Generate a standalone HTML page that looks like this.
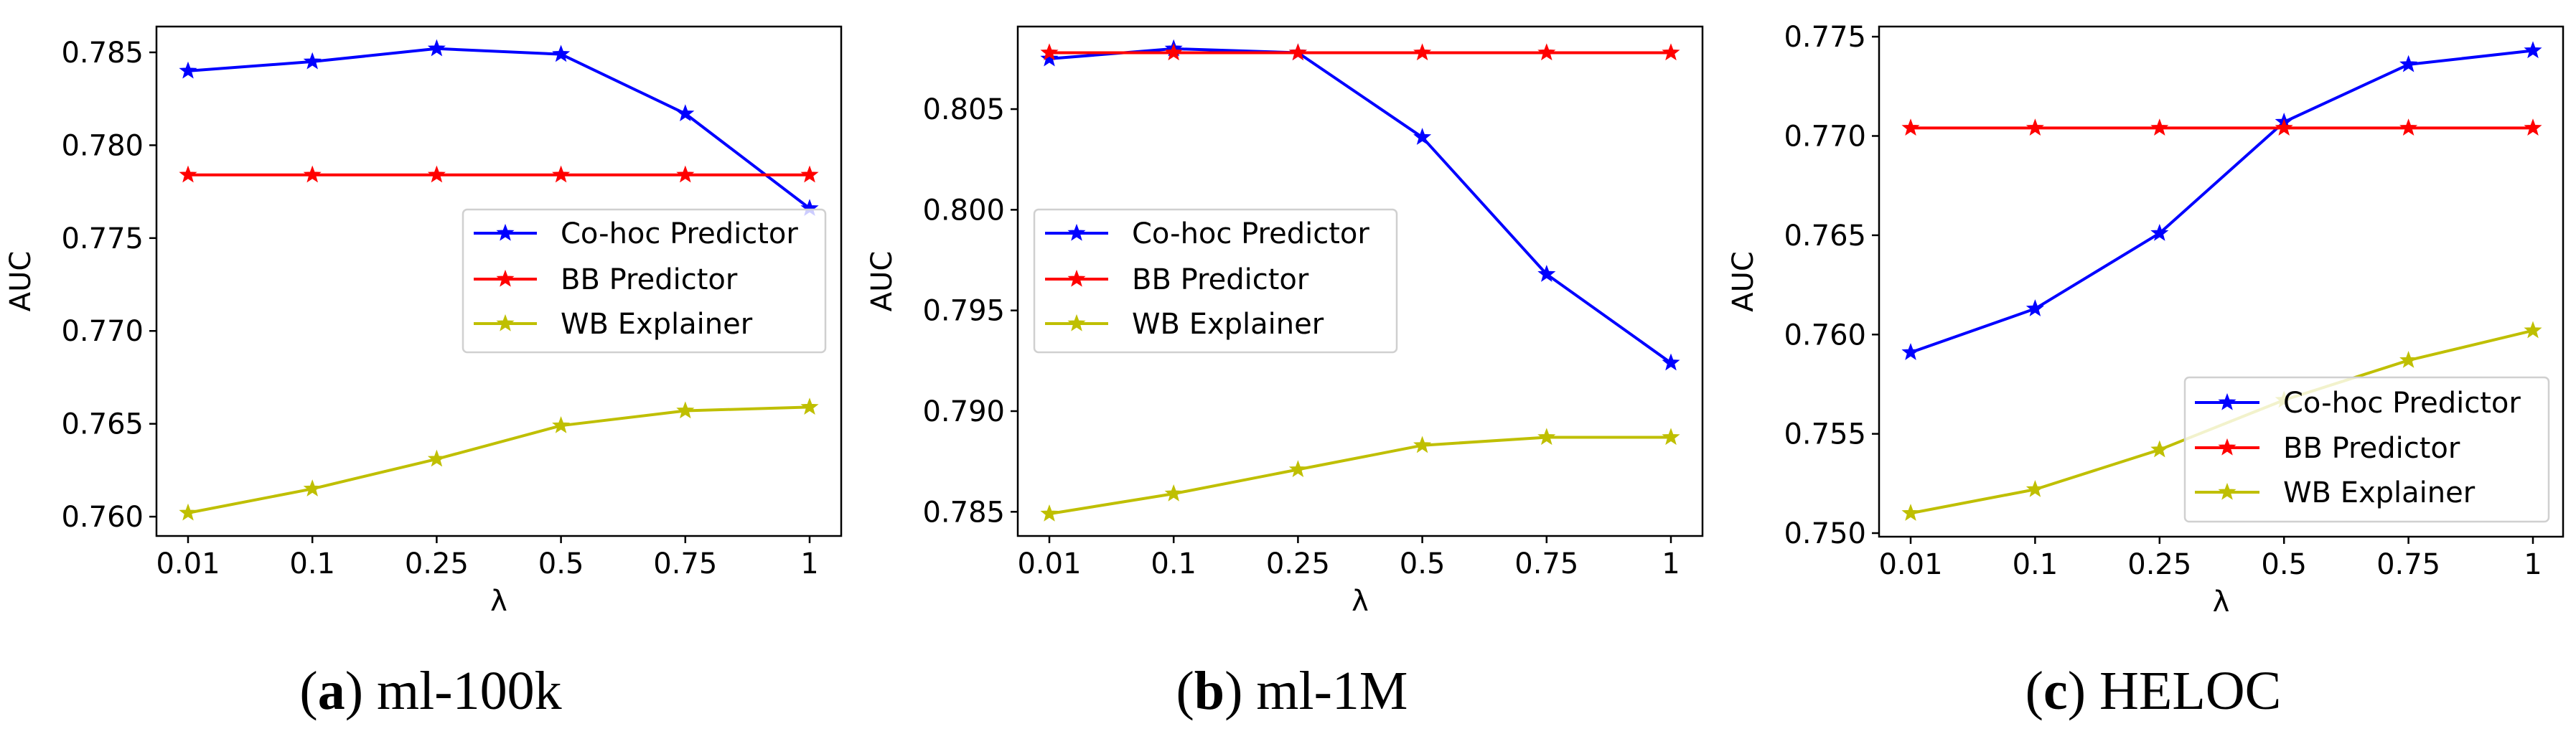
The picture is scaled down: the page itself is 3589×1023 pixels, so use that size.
<!DOCTYPE html>
<html><head><meta charset="utf-8"><style>
html,body{margin:0;padding:0;background:#fff;}
svg text{font-family:"DejaVu Sans","Liberation Sans",sans-serif;}
</style></head><body>
<svg id="fig" width="3589" height="1018" viewBox="0 0 3589 1018" xmlns="http://www.w3.org/2000/svg"></svg>
<script>
const categories = ["0.01","0.1","0.25","0.5","0.75","1"];
const seriesNames = ["Co-hoc Predictor","BB Predictor","WB Explainer"];
const a_cohoc = [0.7840,0.7845,0.7852,0.7849,0.7817,0.7766];
const a_bb = [0.7784,0.7784,0.7784,0.7784,0.7784,0.7784];
const a_wb = [0.7602,0.7615,0.7631,0.7649,0.7657,0.7659];
const a_ticks = [0.760,0.765,0.770,0.775,0.780,0.785];
const b_cohoc = [0.8075,0.8080,0.8078,0.8036,0.7968,0.7924];
const b_bb = [0.8078,0.8078,0.8078,0.8078,0.8078,0.8078];
const b_wb = [0.7849,0.7859,0.7871,0.7883,0.7887,0.7887];
const b_ticks = [0.785,0.790,0.795,0.800,0.805];
const c_cohoc = [0.7591,0.7613,0.7651,0.7707,0.7736,0.7743];
const c_bb = [0.7704,0.7704,0.7704,0.7704,0.7704,0.7704];
const c_wb = [0.7510,0.7522,0.7542,0.7567,0.7587,0.7602];
const c_ticks = [0.750,0.755,0.760,0.765,0.770,0.775];
const captions = [["a","ml-100k"],["b","ml-1M"],["c","HELOC"]];

const NS="http://www.w3.org/2000/svg";
const svg=document.getElementById('fig');
const colors=["#0000ff","#ff0000","#bfbf00"];
function mk(tag,attrs,parent){const e=document.createElementNS(NS,tag);for(const k in attrs)e.setAttribute(k,attrs[k]);(parent||svg).appendChild(e);return e;}
function starPath(cx,cy,r){let d="";for(let i=0;i<10;i++){const rr=i%2?r*0.42:r;const ang=-Math.PI/2+i*Math.PI/5;d+=(i?"L":"M")+(cx+rr*Math.cos(ang)).toFixed(1)+","+(cy+rr*Math.sin(ang)).toFixed(1);}return d+"Z";}

const panels=[
 {L:218,R:1172,T:37,B:747,ymin:0.75896,ymax:0.78639,x0:262,x1:1128,ticks:a_ticks,series:[a_cohoc,a_bb,a_wb],leg:{x:645,y:292,w:505,h:199,lx0:660,lx1:748,tx:781,ys:[325,389,451]},capx:600},
 {L:1418,R:2372,T:37,B:747,ymin:0.7838,ymax:0.8091,x0:1462,x1:2328,ticks:b_ticks,series:[b_cohoc,b_bb,b_wb],leg:{x:1441,y:292,w:505,h:199,lx0:1456,lx1:1544,tx:1577,ys:[325,389,451]},capx:1800},
 {L:2618,R:3571,T:37,B:748,ymin:0.74982,ymax:0.77551,x0:2662,x1:3529,ticks:c_ticks,series:[c_cohoc,c_bb,c_wb],leg:{x:3044,y:526,w:507,h:201,lx0:3058,lx1:3148,tx:3181,ys:[561,624,686]},capx:3000}
];

panels.forEach((p,pi)=>{
  const g=mk('g',{});
  
  
  const xs=i=>p.x0+(p.x1-p.x0)*i/(categories.length-1);
  const ys=v=>p.B-(v-p.ymin)/(p.ymax-p.ymin)*(p.B-p.T);
  // y ticks
  p.ticks.forEach(t=>{
    const y=ys(t);
    const tk=mk('line',{x1:p.L-10,x2:p.L,y1:y,y2:y,stroke:"#000","stroke-width":2.5},g);
    
    
    const tl=mk('text',{x:p.L-18,y:y+14,"text-anchor":"end","font-size":40},g);
    tl.textContent=t.toFixed(3);
    
    
  });
  categories.forEach((c,i)=>{
    const x=xs(i);
    const tk=mk('line',{x1:x,x2:x,y1:p.B,y2:p.B+10,stroke:"#000","stroke-width":2.5},g);
    
    
    const tl=mk('text',{x:x,y:p.B+52,"text-anchor":"middle","font-size":40},g);
    tl.textContent=c;
    
    
  });
  // series
  p.series.forEach((s,si)=>{
    const pts=s.map((v,i)=>xs(i).toFixed(1)+","+ys(v).toFixed(1)).join(" ");
    const pl=mk('polyline',{points:pts,fill:"none",stroke:colors[si],"stroke-width":4,"stroke-linejoin":"round"},g);
    
    
    s.forEach((v,i)=>{
      const m=mk('path',{d:starPath(xs(i),ys(v),11),fill:colors[si],stroke:colors[si],"stroke-width":1.5},g);
      
      
    });
  });
  // frame
  const fr=mk('rect',{x:p.L,y:p.T,width:p.R-p.L,height:p.B-p.T,fill:"none",stroke:"#000","stroke-width":2.5},g);
  
  
  // axis titles
  const xt=mk('text',{x:(p.L+p.R)/2,y:p.B+104,"text-anchor":"middle","font-size":40},g);
  xt.textContent="λ";
  
  
  const yx=p.L-176, yy=(p.T+p.B)/2;
  const yt=mk('text',{x:yx,y:yy,"text-anchor":"middle","font-size":40,transform:`rotate(-90 ${yx} ${yy})`},g);
  yt.textContent="AUC";
  
  
  // legend
  const L=p.leg;
  const lg=mk('g',{},g);
  
  
  mk('rect',{x:L.x,y:L.y,width:L.w,height:L.h,rx:6,fill:"#fff","fill-opacity":0.8,stroke:"#d0d0d0","stroke-width":2.5},lg);
  seriesNames.forEach((n,si)=>{
    const e=mk('g',{},lg);
    
    
    const y=L.ys[si];
    mk('line',{x1:L.lx0,x2:L.lx1,y1:y,y2:y,stroke:colors[si],"stroke-width":4},e);
    mk('path',{d:starPath((L.lx0+L.lx1)/2,y,11),fill:colors[si],stroke:colors[si],"stroke-width":1.5},e);
    const t=mk('text',{x:L.tx,y:y+14,"font-size":40},e);
    t.textContent=n;
  });
  // caption
  const cap=mk('text',{x:p.capx,y:988,"text-anchor":"middle","font-size":76,style:'font-family:"Liberation Serif",serif'},g);
  
  
  const t1=mk('tspan',{},cap);t1.textContent="(";
  const t2=mk('tspan',{"font-weight":"bold"},cap);t2.textContent=captions[pi][0];
  const t3=mk('tspan',{},cap);t3.textContent=") "+captions[pi][1];
});
</script>
</body></html>
